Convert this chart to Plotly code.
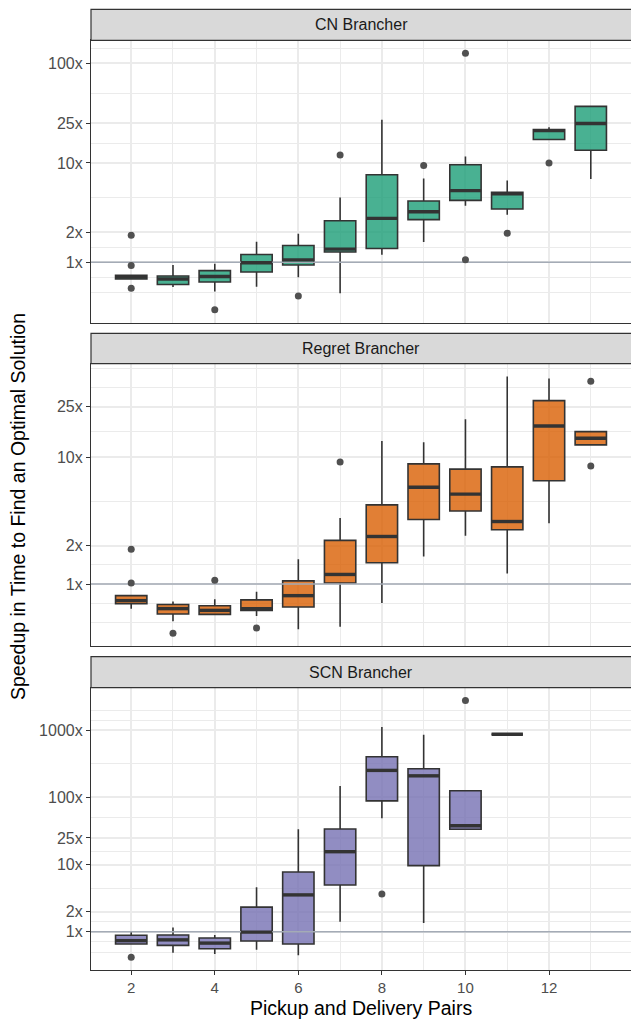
import numpy as np
import plotly.graph_objects as go

# ---- data: speedup distributions per number of pickup/delivery pairs ----
cn_pairs = [2, 3, 4, 5, 6, 7, 8, 9, 10, 11, 12, 13]
cn_lower = [0.68, 0.566, 0.51, 0.57, 0.71, 0.49, 1.19, 1.60, 3.71, 3.02, 17.2, 6.89]
cn_q1 = [0.68, 0.60, 0.635, 0.80, 0.94, 1.27, 1.38, 2.69, 4.20, 3.44, 17.2, 13.4]
cn_median = [0.71, 0.68, 0.72, 0.99, 1.06, 1.36, 2.77, 3.23, 5.26, 4.90, 21.1, 24.9]
cn_q3 = [0.74, 0.73, 0.826, 1.20, 1.48, 2.62, 7.61, 4.14, 9.59, 5.05, 21.7, 37.0]
cn_upper = [0.74, 0.94, 0.97, 1.61, 1.94, 4.5, 27.2, 6.98, 11.6, 6.67, 22.9, 37.0]
cn_out_x = [2, 2, 2, 4, 6, 7, 9, 10, 10, 11, 12]
cn_out_y = [1.87, 0.93, 0.55, 0.333, 0.46, 12.0, 9.44, 127, 1.06, 1.96, 10.0]

regret_pairs = [2, 3, 4, 5, 6, 7, 8, 9, 10, 11, 12, 13]
regret_lower = [0.64, 0.51, 0.577, 0.56, 0.44, 0.46, 0.71, 1.65, 2.40, 1.21, 3.02, 12.5]
regret_q1 = [0.70, 0.58, 0.577, 0.62, 0.66, 1.02, 1.47, 3.23, 3.76, 2.68, 6.51, 12.5]
regret_median = [0.74, 0.64, 0.62, 0.64, 0.81, 1.19, 2.37, 5.80, 5.11, 3.11, 17.6, 14.1]
regret_q3 = [0.81, 0.69, 0.675, 0.75, 1.06, 2.21, 4.21, 8.86, 8.05, 8.39, 27.9, 15.9]
regret_upper = [0.81, 0.73, 0.76, 0.87, 1.57, 3.31, 13.4, 13.1, 19.9, 43.2, 41.7, 15.9]
regret_out_x = [2, 2, 3, 4, 5, 7, 13, 13]
regret_out_y = [1.88, 1.02, 0.41, 1.07, 0.45, 9.14, 39.7, 8.5]

scn_pairs = [2, 3, 4, 5, 6, 7, 8, 9, 10, 11]
scn_lower = [0.66, 0.49, 0.47, 0.54, 0.45, 1.41, 48.9, 1.35, 33.6, 875]
scn_q1 = [0.66, 0.63, 0.56, 0.73, 0.66, 4.99, 89, 9.68, 33.6, 875]
scn_median = [0.74, 0.76, 0.68, 0.99, 3.55, 15.6, 253, 210, 38.0, 875]
scn_q3 = [0.89, 0.90, 0.81, 2.33, 7.79, 33.9, 403, 267, 126, 875]
scn_upper = [1.02, 1.16, 0.90, 4.61, 33.6, 148, 1124, 855, 126, 875]
scn_out_x = [2, 8, 10]
scn_out_y = [0.42, 3.67, 2773]

panel_titles = ["CN Brancher", "Regret Brancher", "SCN Brancher"]
panel_colors = ["27,158,119", "217,95,2", "117,112,179"]

y_breaks = [1, 2, 10, 25, 100, 1000]
y_labels = ["1x", "2x", "10x", "25x", "100x", "1000x"]
x_breaks = [2, 4, 6, 8, 10, 12]
x_minor = [3, 5, 7, 9, 11, 13]

panels = [
    (cn_pairs, cn_lower, cn_q1, cn_median, cn_q3, cn_upper, cn_out_x, cn_out_y),
    (regret_pairs, regret_lower, regret_q1, regret_median, regret_q3, regret_upper,
     regret_out_x, regret_out_y),
    (scn_pairs, scn_lower, scn_q1, scn_median, scn_q3, scn_upper, scn_out_x, scn_out_y),
]

# ---- layout geometry ----
W, H = 631, 1023
M_L, M_R, M_T, M_B = 91, 0, 9, 53
plot_h = H - M_T - M_B
box_w = 0.75
FONT = "Liberation Sans"
DARK = "#333333"
GRID = "#ebebeb"


def py(pix):
    """pixel row -> paper y"""
    return (H - M_B - pix) / plot_h


panel_px = [(40.3, 322.7), (363.7, 646.0), (687.7, 970.0)]
strip_px = [(9.3, 40.3), (333.3, 363.7), (656.7, 687.7)]

# shared x range (continuous scale, 5% expansion)
all_x = np.array(cn_pairs + regret_pairs + scn_pairs, dtype=float)
xlo, xhi = all_x.min() - box_w / 2, all_x.max() + box_w / 2
xpad = 0.05 * (xhi - xlo)
x_range = [xlo - xpad, xhi + xpad]


def log_minor(breaks_log, lo, hi):
    """minor breaks: midpoints between majors, extended one step each side"""
    b = [v for v in breaks_log if lo <= v <= hi]
    bd = b[1] - b[0]
    if lo < b[0]:
        b = [b[0] - bd] + b
    if hi > b[-1]:
        b = b + [b[-1] + bd]
    out = []
    for a, c in zip(b[:-1], b[1:]):
        out += [a, (a + c) / 2]
    out.append(b[-1])
    return [v for v in out if lo <= v <= hi]


fig = go.Figure()
layout = dict(
    width=W, height=H,
    margin=dict(l=M_L, r=M_R, t=M_T, b=M_B),
    paper_bgcolor="white", plot_bgcolor="white",
    showlegend=False,
    font=dict(family=FONT, color="#4d4d4d", size=16),
    shapes=[], annotations=[],
)

for i, (pairs, lower, q1, med, q3, upper, ox, oy) in enumerate(panels):
    n = "" if i == 0 else str(i + 1)
    xa, ya = "x" + n, "y" + n
    color = panel_colors[i]

    # y range from data in log space with 5% expansion
    vals = np.log10(np.array(lower + upper + oy, dtype=float))
    lo, hi = vals.min(), vals.max()
    pad = 0.05 * (hi - lo)
    y_range = [lo - pad, hi + pad]
    majors = [b for b in y_breaks if y_range[0] <= np.log10(b) <= y_range[1]]
    minor_log = log_minor([np.log10(b) for b in y_breaks], *y_range)

    # reference line at 1x
    fig.add_trace(go.Scatter(
        x=x_range, y=[1, 1], mode="lines", xaxis=xa, yaxis=ya,
        line=dict(color="#a4abb6", width=1.5), hoverinfo="skip"))

    fig.add_trace(go.Box(
        x=pairs, q1=q1, median=med, q3=q3, lowerfence=lower, upperfence=upper,
        orientation="v", width=box_w, whiskerwidth=0, boxpoints=False,
        fillcolor=f"rgba({color},0.8)", line=dict(color=DARK, width=1.6),
        xaxis=xa, yaxis=ya, name=panel_titles[i]))

    # thicker median bars
    mx, my = [], []
    for p, m in zip(pairs, med):
        mx += [p - box_w / 2, p + box_w / 2, None]
        my += [m, m, None]
    fig.add_trace(go.Scatter(
        x=mx, y=my, mode="lines", xaxis=xa, yaxis=ya,
        line=dict(color=DARK, width=3.4), hoverinfo="skip"))

    fig.add_trace(go.Scatter(
        x=ox, y=oy, mode="markers", xaxis=xa, yaxis=ya,
        marker=dict(color="#505050", size=7), hoverinfo="skip"))

    top, bot = panel_px[i]
    dom = [py(bot), py(top)]
    bottom_panel = i == len(panels) - 1
    layout["xaxis" + n] = dict(
        domain=[0, 1], anchor=ya, range=x_range,
        tickvals=x_breaks, ticktext=[str(v) for v in x_breaks],
        showticklabels=bottom_panel, ticks="outside" if bottom_panel else "",
        ticklen=4, tickwidth=1, tickcolor=DARK,
        tickfont=dict(size=15, color="#4d4d4d", family=FONT),
        showgrid=True, gridcolor=GRID, gridwidth=1.6,
        minor=dict(tickvals=x_minor, showgrid=True, gridcolor=GRID, gridwidth=0.8, ticks=""),
        showline=True, mirror=True, linecolor=DARK, linewidth=1.2,
        zeroline=False,
    )
    if i > 0:
        layout["xaxis" + n]["matches"] = "x"
    layout["yaxis" + n] = dict(
        domain=dom, anchor=xa, type="log", range=y_range,
        tickvals=majors, ticktext=[y_labels[y_breaks.index(b)] for b in majors],
        ticks="outside", ticklen=4, tickwidth=1, tickcolor=DARK,
        tickfont=dict(size=16, color="#4d4d4d", family=FONT),
        showgrid=True, gridcolor=GRID, gridwidth=1.6,
        minor=dict(tickvals=[10 ** v for v in minor_log], showgrid=True,
                   gridcolor=GRID, gridwidth=0.8, ticks=""),
        showline=True, mirror=True, linecolor=DARK, linewidth=1.2,
        zeroline=False,
    )

    # facet strip
    s_top, s_bot = strip_px[i]
    layout["shapes"].append(dict(
        type="rect", xref="paper", yref="paper", x0=0, x1=1.002,
        y0=py(s_bot), y1=py(s_top), fillcolor="#d9d9d9",
        line=dict(color=DARK, width=1.2), layer="above"))
    layout["annotations"].append(dict(
        text=panel_titles[i], xref="paper", yref="paper", x=0.5,
        y=(py(s_bot) + py(s_top)) / 2, showarrow=False,
        xanchor="center", yanchor="middle",
        font=dict(size=16, color="#1a1a1a", family=FONT)))

# axis titles
layout["annotations"].append(dict(
    text="Pickup and Delivery Pairs", xref="paper", yref="paper",
    x=0.5, y=py(1008), showarrow=False, xanchor="center", yanchor="middle",
    font=dict(size=19.5, color="black", family=FONT)))
layout["annotations"].append(dict(
    text="Speedup in Time to Find an Optimal Solution", xref="paper", yref="paper",
    x=(18 - M_L) / (W - M_L - M_R), y=py(507), showarrow=False, textangle=-90,
    xanchor="center", yanchor="middle",
    font=dict(size=19.5, color="black", family=FONT)))

fig.update_layout(**layout)
fig.write_html("out.html")
